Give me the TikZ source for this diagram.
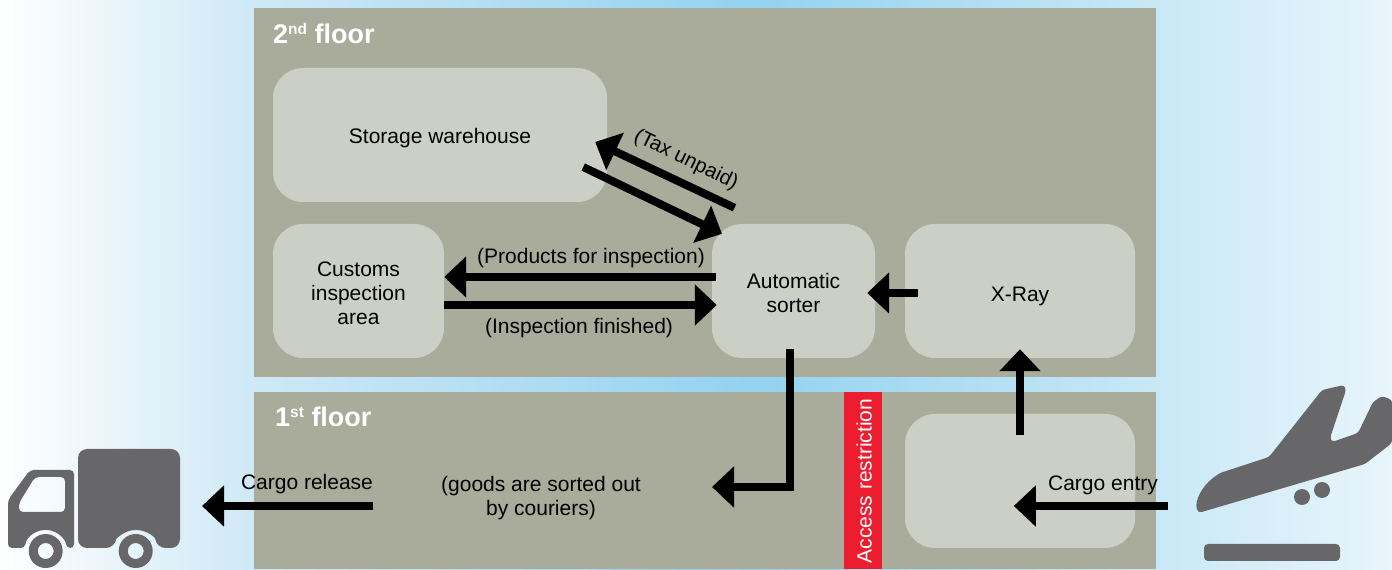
\documentclass[tikz,border=0pt]{standalone}
\usepackage{fontspec}
\setmainfont{Liberation Sans}
\usetikzlibrary{arrows.meta}
\definecolor{floorcol}{HTML}{A9AC9A}
\definecolor{roomcol}{HTML}{CBCFC5}
\definecolor{iconcol}{HTML}{676769}
\definecolor{barcol}{HTML}{ED1C2E}
\definecolor{skya}{HTML}{CFE9F6}
\definecolor{skyb}{HTML}{94D2EF}
\definecolor{skyc}{HTML}{E8F5FB}
\pgfdeclarehorizontalshading{skygrad}{100bp}{color(0bp)=(white); color(25bp)=(white); color(34bp)=(skya); color(52bp)=(skyb); color(75bp)=(skyc); color(100bp)=(skyc)}
\newcommand{\topgap}[1]{\rule{0pt}{#1pt}}
\newcommand{\floorsup}[1]{\raisebox{9pt}{\fontsize{15.5}{16}\selectfont #1}}
\tikzset{
	room/.style={fill=roomcol,rounded corners=30pt,minimum height=134pt,inner sep=0pt,align=center,font=\fontsize{21}{24}\selectfont},
	label/.style={inner sep=0pt,align=center,font=\fontsize{21}{24}\selectfont},
	floorname/.style={inner sep=0pt,anchor=base west,text=white,font=\fontsize{27}{30}\selectfont\bfseries},
	flow/.style={line width=8pt,-{Triangle[length=22pt,width=40pt]}},
	icon/.style={fill=iconcol}
}
\begin{document}
\begin{tikzpicture}[x=1pt,y=1pt]
	\useasboundingbox (0,0) rectangle (1392,570);
	\shade[shading=skygrad] (0,0) rectangle (1392,570);
	\fill[floorcol] (254,193) rectangle (1156,562);
	\fill[floorcol] (254,1) rectangle (1156,178);
	\node[floorname] (upper) at (273,526) {2\floorsup{nd} floor};
	\node[floorname] (lower) at (275,143.5) {1\floorsup{st} floor};
	\node[room,minimum width=334pt] (storage) at (440,435) {\topgap{21}Storage warehouse};
	\node[room,minimum width=171pt] (customs) at (358.5,279) {\topgap{19}Customs\\inspection\\area};
	\node[room,minimum width=163pt] (sorter) at (793.5,279) {\topgap{19}Automatic\\sorter};
	\node[room,minimum width=230pt] (xray) at (1020,279) {\topgap{25}X-Ray};
	\node[room,minimum width=230pt] (arrival) at (1020,89) {};
	\node[fill=barcol,minimum width=38pt,minimum height=177pt,inner sep=0pt] (gate) at (863,89.5) {};
	\node[label,text=white,rotate=90] (gatetext) at (864,89) {Access restriction};
	\coordinate (sorted) at (712,83);
	\coordinate (landing) at (1168,64);
	\coordinate (release) at (373,64);
	\coordinate (truckend) at (202,64);
	\draw[flow] ([shift={(-59,16)}]sorter.north) -- ([shift={(-12,-7)}]storage.east);
	\draw[flow] ([shift={(-24,-32)}]storage.east) -- ([shift={(-71.5,-10)}]sorter.north);
	\draw[flow] ([shift={(4,14)}]sorter.west) -- ([yshift=14pt]customs.east);
	\draw[flow] ([yshift=-14pt]customs.east) -- ([shift={(5,-14)}]sorter.west);
	\draw[flow] ([shift={(13,-2)}]xray.west) -- ([shift={(-8,-2)}]sorter.east);
	\draw[flow] ([shift={(-3.5,9)}]sorter.south) |- (sorted);
	\draw[flow] ([yshift=-21pt]arrival.north) -- ([yshift=9pt]xray.south);
	\draw[flow] (landing) -- ([shift={(109,-25)}]arrival.west);
	\draw[flow] (release) -- (truckend);
	\node[label,rotate=-26,font=\fontsize{20.5}{24}\selectfont] (taxtext) at (686,410) {(Tax unpaid)};
	\node[label] (producttext) at (591,312) {(Products for inspection)};
	\node[label] (finishtext) at (579,242) {(Inspection finished)};
	\node[label] (courier) at (541,72) {(goods are sorted out\\by couriers)};
	\node[label] (releasetext) at (307,86) {Cargo release};
	\node[label] (entrytext) at (1103,85) {Cargo entry};
	\fill[icon,even odd rule,rounded corners=4pt] (74,100) -- (30,100) -- (8,70) -- (8,22) -- (24.9,22) arc[start angle=172,end angle=8,radius=21] -- (74,22) -- cycle
		(65,93) -- (35,93) -- (19,67) -- (19,58) -- (65,58) -- cycle;
	\fill[icon,rounded corners=9pt] (78,121) -- (180,121) -- (180,22) -- (156.5,22) arc[start angle=8,end angle=172,radius=21] -- (78,22) -- cycle;
	\foreach \x in {45.7,135.7}
		\fill[icon,even odd rule] (\x,19) circle[radius=17] (\x,19) circle[radius=8];
	\fill[icon,rounded corners=3pt] (1205,59) .. controls (1192,55) and (1194,80) .. (1220,97) -- (1269,113) -- (1322,180) -- (1344,185) -- (1346,180) -- (1330,132) -- (1332,128) -- (1358,137) -- (1373,168) -- (1382,174) -- (1392,170) -- (1392,127) -- (1365,106) -- cycle;
	\foreach \x/\y in {1302/73,1322/80}
		\fill[icon] (\x,\y) circle[radius=8];
	\fill[icon,rounded corners=4pt] (1204,9) rectangle (1340,26);
\end{tikzpicture}
\end{document}
